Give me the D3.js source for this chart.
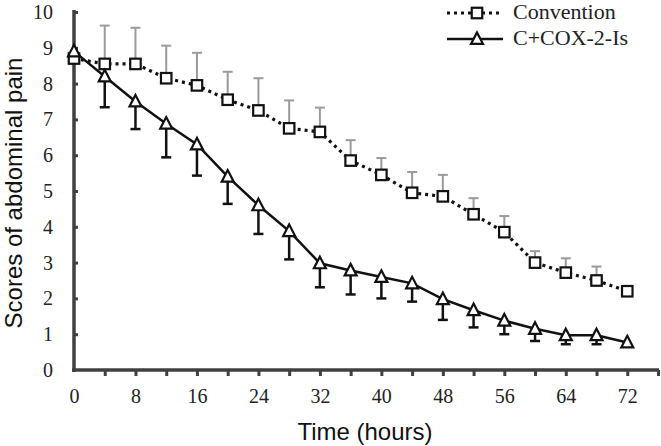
<!DOCTYPE html>
<html>
<head>
<meta charset="utf-8">
<script src="https://cdn.jsdelivr.net/npm/d3@7"></script>
<style>
  html, body { margin: 0; padding: 0; background: #fff; }
  svg { display: block; }
</style>
</head>
<body>
<svg id="chart" width="661" height="446"></svg>
<script>
// ---- data ----
const hours = [0, 4, 8, 12, 16, 20, 24, 28, 32, 36, 40, 44, 48, 52, 56, 60, 64, 68, 72];
const conventionMean = [8.7, 8.55, 8.55, 8.15, 7.95, 7.55, 7.25, 6.75, 6.65, 5.85, 5.45, 4.95, 4.85, 4.35, 3.85, 3.0, 2.72, 2.5, 2.2];
const conventionSD   = [0, 1.07, 1.01, 0.91, 0.91, 0.78, 0.9, 0.78, 0.68, 0.57, 0.47, 0.58, 0.6, 0.45, 0.45, 0.32, 0.4, 0.39, 0];
const coxMean = [8.9, 8.2, 7.5, 6.88, 6.3, 5.4, 4.6, 3.88, 2.98, 2.78, 2.6, 2.42, 1.98, 1.67, 1.38, 1.15, 0.97, 0.97, 0.77];
const coxSD   = [0, 0.86, 0.77, 0.94, 0.87, 0.76, 0.8, 0.79, 0.67, 0.67, 0.6, 0.51, 0.58, 0.48, 0.38, 0.34, 0.25, 0.25, 0];
const seriesNames = ["Convention", "C+COX-2-Is"];
const xTicks = [0, 4, 8, 12, 16, 20, 24, 28, 32, 36, 40, 44, 48, 52, 56, 60, 64, 68, 72, 76];
const yTicks = [0, 1, 2, 3, 4, 5, 6, 7, 8, 9, 10];
const xTitle = "Time (hours)";
const yTitle = "Scores of abdominal pain";

// ---- setup ----
const svg = d3.select("#chart");
const x = d3.scaleLinear().domain([0, 76]).range([74, 658]);
const y = d3.scaleLinear().domain([0, 10]).range([370, 12]);
const axisColor = "#404040";
const serif = "'Liberation Serif', 'Times New Roman', serif";
const sans = "'Liberation Sans', Arial, sans-serif";

// ---- axes ----
const xAxis = d3.axisBottom(x)
  .tickValues(xTicks)
  .tickSizeInner(6).tickSizeOuter(0).tickPadding(13)
  .tickFormat(d => (d % 8 === 0 && d <= 72) ? String(d) : "");
const gx = svg.append("g").attr("transform", `translate(0,${y(0)})`).call(xAxis);

const yAxis = d3.axisLeft(y)
  .tickValues(yTicks)
  .tickSizeInner(-4).tickSizeOuter(0).tickPadding(21)
  .tickFormat(d3.format("d"));
const gy = svg.append("g").attr("transform", `translate(${x(0)},0)`).call(yAxis);

[gx, gy].forEach(g => {
  g.select(".domain").attr("stroke", axisColor).attr("stroke-width", 3.5);
  g.selectAll(".tick line").attr("stroke", axisColor).attr("stroke-width", 3);
  g.selectAll(".tick text").attr("fill", "#222").style("font-family", serif).style("font-size", "20px");
});
gx.select(".domain").attr("d", `M${x(0) - 2},0H${x(76) + 1}`);
gy.select(".domain").attr("d", `M0,${y(0) + 2}V${y(10) - 2}`);
gy.selectAll(".tick").filter(d => d === 0).select("line").remove();
gx.selectAll(".tick").filter(d => d === 0).select("line").remove();

// titles
svg.append("text")
  .attr("x", 365).attr("y", 440)
  .attr("text-anchor", "middle")
  .style("font-family", sans).style("font-size", "24px").attr("fill", "#111")
  .text(xTitle);
svg.append("text")
  .attr("transform", "translate(22,193) rotate(-90)")
  .attr("text-anchor", "middle")
  .style("font-family", sans).style("font-size", "24px").attr("fill", "#111")
  .text(yTitle);

// ---- data rows ----
const conv = hours.map((h, i) => ({ h, m: conventionMean[i], sd: conventionSD[i] }));
const cox = hours.map((h, i) => ({ h, m: coxMean[i], sd: coxSD[i] }));
const capW = 10;

// convention error bars (upward, gray)
const gConvErr = svg.append("g").attr("stroke", "#9a9a9a").attr("stroke-width", 2).attr("fill", "none");
conv.filter(d => d.sd > 0).forEach(d => {
  gConvErr.append("line").attr("x1", x(d.h)).attr("x2", x(d.h)).attr("y1", y(d.m)).attr("y2", y(d.m + d.sd));
  gConvErr.append("line").attr("x1", x(d.h) - capW / 2).attr("x2", x(d.h) + capW / 2).attr("y1", y(d.m + d.sd)).attr("y2", y(d.m + d.sd));
});

// cox error bars (downward, black)
const gCoxErr = svg.append("g").attr("stroke", "#111").attr("stroke-width", 2.5).attr("fill", "none");
cox.filter(d => d.sd > 0).forEach(d => {
  gCoxErr.append("line").attr("x1", x(d.h)).attr("x2", x(d.h)).attr("y1", y(d.m)).attr("y2", y(d.m - d.sd));
  gCoxErr.append("line").attr("x1", x(d.h) - capW / 2).attr("x2", x(d.h) + capW / 2).attr("y1", y(d.m - d.sd)).attr("y2", y(d.m - d.sd));
});

const line = d3.line().x(d => x(d.h)).y(d => y(d.m));

// lines
svg.append("path").datum(conv).attr("d", line)
  .attr("fill", "none").attr("stroke", "#111").attr("stroke-width", 3.2)
  .attr("stroke-dasharray", "3,4");
svg.append("path").datum(cox).attr("d", line)
  .attr("fill", "none").attr("stroke", "#111").attr("stroke-width", 2.5);

// markers
const sq = 10.5;
function square(g, cx, cy) {
  g.append("rect").attr("x", cx - sq / 2).attr("y", cy - sq / 2).attr("width", sq).attr("height", sq)
    .attr("fill", "#fff").attr("stroke", "#111").attr("stroke-width", 2.2);
}
const tw = 12, th = 11;
function triangle(g, cx, cy) {
  g.append("path")
    .attr("d", `M${cx},${cy - th * 0.6}L${cx + tw / 2},${cy + th * 0.45}L${cx - tw / 2},${cy + th * 0.45}Z`)
    .attr("fill", "#fff").attr("stroke", "#111").attr("stroke-width", 2.2).attr("stroke-linejoin", "miter");
}
const gConvPts = svg.append("g");
conv.forEach(d => square(gConvPts, x(d.h), y(d.m)));
const gCoxPts = svg.append("g");
cox.forEach(d => triangle(gCoxPts, x(d.h), y(d.m)));

// ---- legend ----
const lg = svg.append("g");
const legendRows = [
  { name: seriesNames[0], ly: 13, dashed: true },
  { name: seriesNames[1], ly: 39, dashed: false }
];
legendRows.forEach(r => {
  lg.append("line").attr("x1", 447).attr("x2", 503).attr("y1", r.ly).attr("y2", r.ly)
    .attr("stroke", "#111").attr("stroke-width", r.dashed ? 3.2 : 2.5)
    .attr("stroke-dasharray", r.dashed ? "3,4" : null);
  if (r.dashed) square(lg, 477, r.ly); else triangle(lg, 477, r.ly);
  lg.append("text").attr("x", 513).attr("y", r.ly + 6)
    .style("font-family", serif).style("font-size", "22px").attr("fill", "#222")
    .text(r.name);
});
</script>
</body>
</html>
